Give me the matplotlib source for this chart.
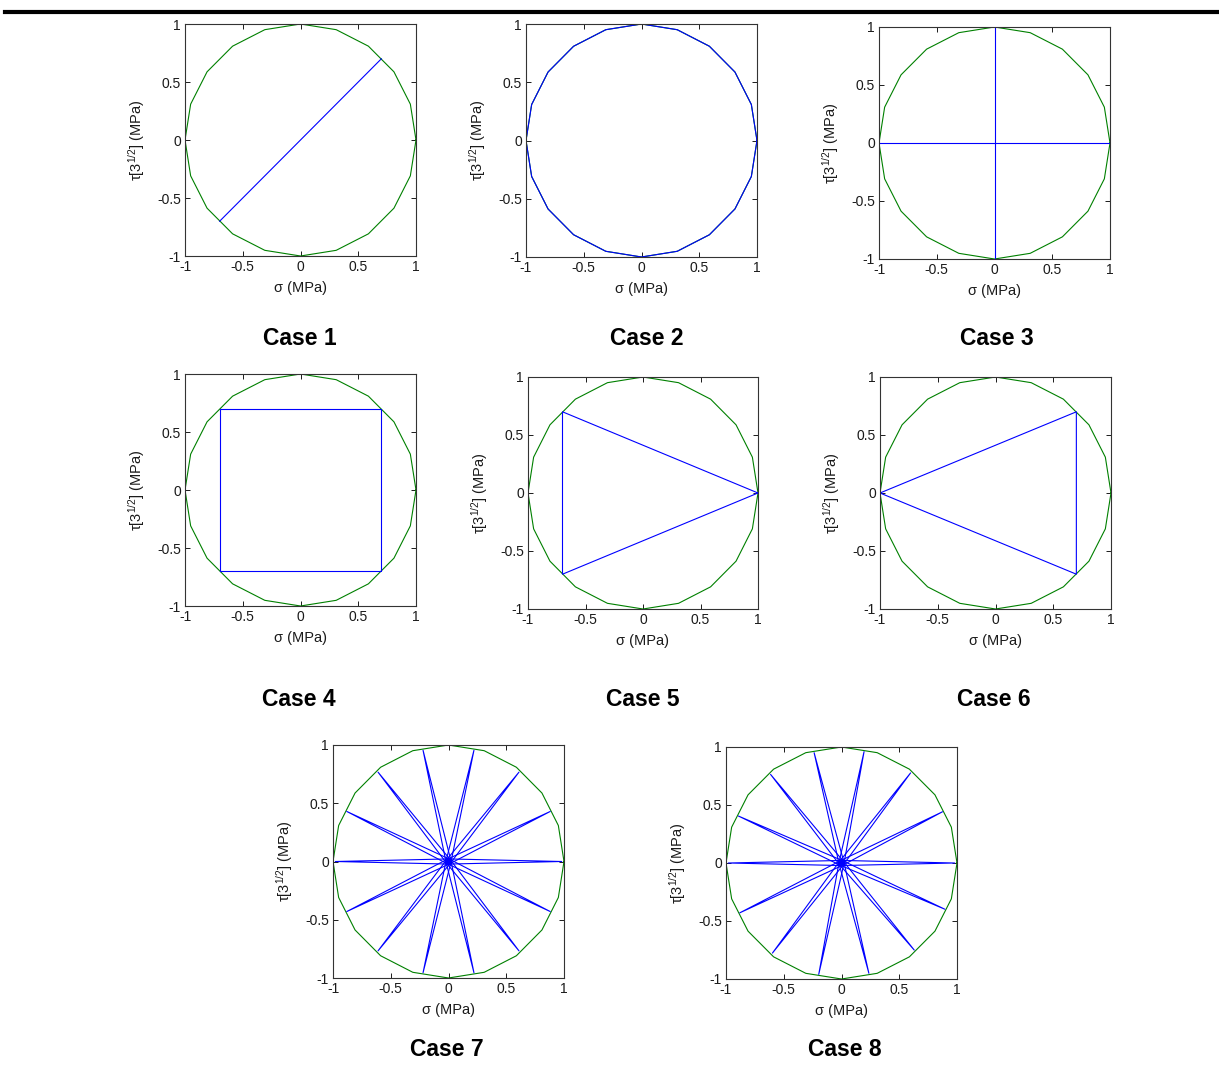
import numpy as np
import matplotlib
matplotlib.use("Agg")
import matplotlib.pyplot as plt
from matplotlib.lines import Line2D
from matplotlib.ticker import FuncFormatter

plt.rcParams['font.family'] = ['Liberation Sans', 'DejaVu Sans']
plt.rcParams['mathtext.fontset'] = 'custom'
plt.rcParams['mathtext.rm'] = 'Liberation Sans'
plt.rcParams['mathtext.default'] = 'regular'
plt.rcParams['axes.unicode_minus'] = False

W, H = 1219, 1068

# yield surface: 20-sided polygon approximating the unit circle
surface_deg = np.arange(0, 361, 18)

# load paths for each case (sigma, tau*sqrt(3))
case1_x = [-0.7, 0.7]
case1_y = [-0.7, 0.7]
case2_deg = np.arange(0, 361, 18)
case3_h = ([-1, 1], [0, 0])
case3_v = ([0, 0], [-1, 1])
case4_x = [-0.7, 0.7, 0.7, -0.7, -0.7]
case4_y = [-0.7, -0.7, 0.7, 0.7, -0.7]
case5_x = [1, -0.7, -0.7, 1]
case5_y = [0, 0.7, -0.7, 0]
case6_x = [-1, 0.7, 0.7, -1]
case6_y = [0, 0.7, -0.7, 0]
# radial spokes (tip angle in degrees)
case7_deg = [0, 26, 51.5, 77, 103, 128.5, 154, 180, 206, 231.5, 257, 283, 308.5, 334]
case8_deg = [0, 26.8, 52.4, 78.5, 104, 128.8, 155.6, 180, 206, 232.4, 258.4, 284, 310, 336]
spoke_r = 0.98
spoke_w = 0.022

ticks = [-1, -0.5, 0, 0.5, 1]

# axes boxes in pixels: left, top, right, bottom
boxes = [
    (185, 24, 416, 256), (526, 24, 757, 257), (879, 27, 1110, 259),
    (185, 374, 416, 606), (528, 377, 758, 609), (880, 377, 1111, 609),
    (333, 745, 564, 978), (726, 747, 957, 979),
]
labels = ['Case 1', 'Case 2', 'Case 3', 'Case 4', 'Case 5', 'Case 6', 'Case 7', 'Case 8']
label_pos = [(300, 339), (647, 339), (997, 339), (299, 699), (643, 699),
             (994, 699), (447, 1049), (845, 1049)]

green = '#008000'
blue = '#0000ff'
lw = 0.8


def fmt(v, pos):
    return '%g' % v


def setup(ax):
    ax.set_xlim(-1, 1)
    ax.set_ylim(-1, 1)
    ax.set_xticks(ticks)
    ax.set_yticks(ticks)
    ax.xaxis.set_major_formatter(FuncFormatter(fmt))
    ax.yaxis.set_major_formatter(FuncFormatter(fmt))
    ax.tick_params(direction='in', length=3.5, width=0.7, top=True, right=True,
                   labelsize=10, colors='#1a1a1a', pad=3)
    for s in ax.spines.values():
        s.set_linewidth(0.8)
        s.set_color('#333333')
    ax.set_xlabel('σ (MPa)', fontsize=10.5, color='#1a1a1a', labelpad=5)
    ax.set_ylabel(r'τ[3$^{1/2}$] (MPa)', fontsize=10.5, color='#1a1a1a', labelpad=7)
    t = np.radians(surface_deg)
    ax.plot(np.cos(t), np.sin(t), color=green, lw=lw)


def spokes(ax, degs):
    for d in degs:
        a = np.radians(d)
        nx, ny = -np.sin(a), np.cos(a)
        xs = [spoke_w * nx, spoke_r * np.cos(a), -spoke_w * nx, spoke_w * nx]
        ys = [spoke_w * ny, spoke_r * np.sin(a), -spoke_w * ny, spoke_w * ny]
        ax.plot(xs, ys, color=blue, lw=lw)


fig = plt.figure(figsize=(W / 100, H / 100), dpi=100)
axes = []
for (l, t, r, b) in boxes:
    ax = fig.add_axes([l / W, 1 - b / H, (r - l) / W, (b - t) / H])
    setup(ax)
    axes.append(ax)

axes[0].plot(case1_x, case1_y, color=blue, lw=lw)
t2 = np.radians(case2_deg)
axes[1].plot(np.cos(t2), np.sin(t2), color=blue, lw=lw)
axes[2].plot(*case3_h, color=blue, lw=lw)
axes[2].plot(*case3_v, color=blue, lw=lw)
axes[3].plot(case4_x, case4_y, color=blue, lw=lw)
axes[4].plot(case5_x, case5_y, color=blue, lw=lw)
axes[5].plot(case6_x, case6_y, color=blue, lw=lw)
spokes(axes[6], case7_deg)
spokes(axes[7], case8_deg)

for text, (x, y) in zip(labels, label_pos):
    fig.text(x / W, 1 - y / H, text, fontsize=16.5, fontweight='bold',
             ha='center', va='center')

# rule across the top of the page
fig.add_artist(Line2D([5 / W, 1], [1 - 12 / H, 1 - 12 / H], color='black', lw=3))

fig.savefig('out.png', dpi=100, facecolor='white')
